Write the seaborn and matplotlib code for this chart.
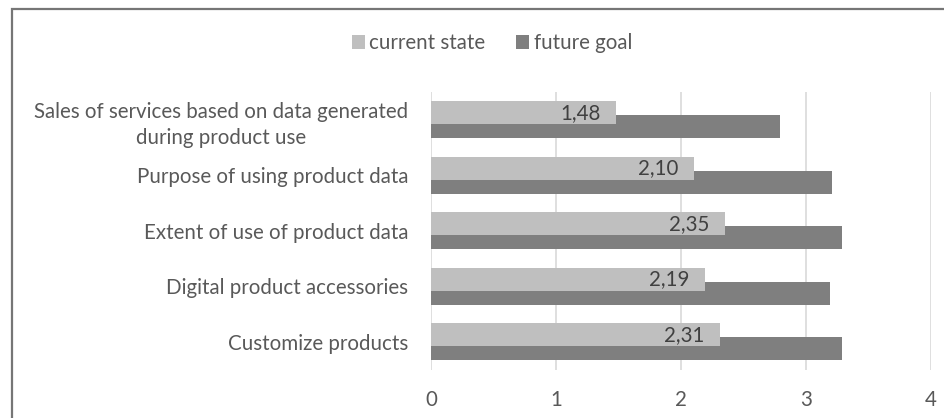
import numpy as np
import pandas as pd
import matplotlib
matplotlib.use("Agg")
import matplotlib.pyplot as plt
from matplotlib.patches import Rectangle, Patch
import seaborn as sns

# Survey dimensions and mean scores (0-4 scale)
categories = [
    "Sales of services based on data generated\nduring product use",
    "Purpose of using product data",
    "Extent of use of product data",
    "Digital product accessories",
    "Customize products",
]
current_state = [1.48, 2.10, 2.35, 2.19, 2.31]
future_goal = [2.79, 3.21, 3.29, 3.19, 3.29]
x_ticks = [0, 1, 2, 3, 4]
series_names = ["current state", "future goal"]

CURRENT_COLOR = "#BFBFBF"
FUTURE_COLOR = "#7F7F7F"
TEXT_COLOR = "#595959"
VALUE_COLOR = "#404040"
GRID_COLOR = "#D9D9D9"
FS = 14.8

sns.set_theme(style="white")
plt.rcParams["font.family"] = ["Lato", "DejaVu Sans"]

W, H = 944, 418
fig = plt.figure(figsize=(W / 100, H / 100), dpi=100)
ax = fig.add_axes([431 / W, 1 - 369.5 / H, 500 / W, 277.5 / H])

pos = np.arange(len(categories))
shift = 0.126      # vertical offset of each series from the category centre
bar_h = 0.42       # bars overlap slightly, as in the clustered layout

df = pd.DataFrame({"pos": pos, "current": current_state, "future": future_goal})

# future goal first so the current-state bar sits on top of it
sns.barplot(x=df["future"], y=df["pos"] + shift, orient="h", native_scale=True,
            width=bar_h, color=FUTURE_COLOR, saturation=1, linewidth=0,
            errorbar=None, ax=ax)
sns.barplot(x=df["current"], y=df["pos"] - shift, orient="h", native_scale=True,
            width=bar_h, color=CURRENT_COLOR, saturation=1, linewidth=0,
            errorbar=None, ax=ax)

ax.set_xlim(x_ticks[0], x_ticks[-1])
ax.set_ylim(len(categories) - 0.5, -0.5)
ax.set_xticks(x_ticks, [str(t) for t in x_ticks])
ax.set_yticks(pos, categories)
for lbl in ax.get_yticklabels():
    lbl.set_multialignment("center")
    lbl.set_linespacing(1.42)
ax.set_xlabel("")
ax.set_ylabel("")

ax.xaxis.grid(True, color=GRID_COLOR, linewidth=1.2)
ax.yaxis.grid(False)
ax.set_axisbelow(True)
for s in ax.spines.values():
    s.set_visible(False)
ax.tick_params(axis="x", length=0, pad=15, labelsize=FS, labelcolor=TEXT_COLOR)
ax.tick_params(axis="y", length=0, pad=16.5, labelsize=FS, labelcolor=TEXT_COLOR)

# value labels inside the end of each current-state bar
for p, v in zip(pos, current_state):
    ax.annotate(f"{v:.2f}".replace(".", ","), xy=(v, p - shift),
                xytext=(-11, 0), textcoords="offset points",
                ha="right", va="center", fontsize=FS, color=VALUE_COLOR)

handles = [Patch(facecolor=CURRENT_COLOR, edgecolor="none"),
           Patch(facecolor=FUTURE_COLOR, edgecolor="none")]
fig.legend(handles, series_names, loc="center", bbox_to_anchor=(0.521, 0.897),
           ncol=2, frameon=False, fontsize=FS, labelcolor=TEXT_COLOR,
           handlelength=0.65, handleheight=0.65, handletextpad=0.2,
           columnspacing=1.5)

# chart-area border
fig.add_artist(Rectangle((12 / W, -0.1), 1.1, 1 - 9 / H + 0.1,
                         transform=fig.transFigure, fill=False,
                         edgecolor="#767676", linewidth=1.6))

fig.savefig("out.png", dpi=100)
